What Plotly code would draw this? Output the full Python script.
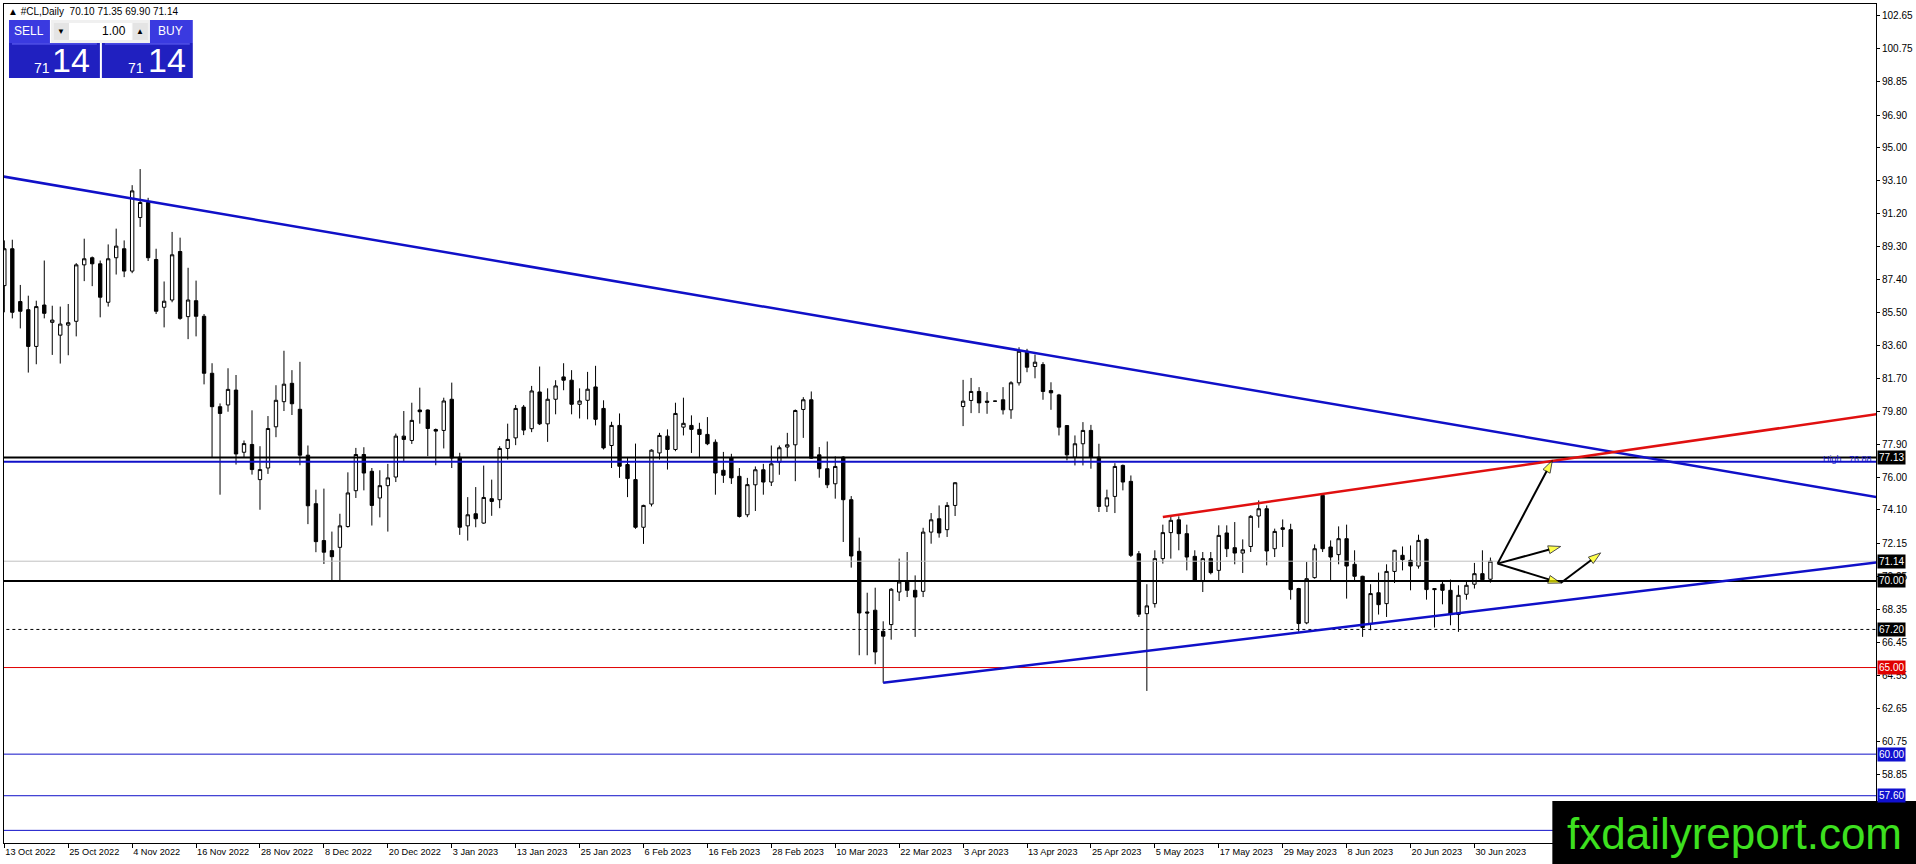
import pandas as pd
import plotly.graph_objects as go

# daily bars 13 Oct 2022 - 4 Jul 2023 (no bars on 26 Dec and 2 Jan)
holidays = ["2022-12-26", "2023-01-02"]
dates = [d for d in pd.bdate_range("2022-10-13", "2023-07-04") if d.strftime("%Y-%m-%d") not in holidays]

opens = [87.05, 89.18, 86.13, 85.66, 83.54, 85.93, 84.93, 84.19, 84.77, 84.99,
         88.25, 88.66, 88.31, 86.09, 88.66, 89.18, 87.89, 90.98, 91.85, 88.56,
         85.80, 86.22, 89.02, 85.26, 86.18, 85.28, 81.99, 80.06, 80.16, 81.02,
         77.43, 77.88, 75.85, 76.52, 78.90, 80.35, 81.41, 79.91, 77.26, 74.46,
         72.33, 71.75, 71.94, 73.14, 75.21, 77.30, 76.33, 74.79, 75.50, 76.00,
         78.36, 78.11, 79.87, 79.87, 78.74, 78.69, 80.49, 77.14, 73.18, 73.88,
         73.34, 74.75, 74.69, 77.65, 78.26, 80.04, 78.79, 80.91, 79.07, 80.49,
         81.78, 81.59, 80.20, 80.43, 81.20, 79.96, 77.82, 78.98, 76.72, 75.85,
         73.10, 74.44, 77.39, 78.36, 77.59, 78.88, 78.98, 78.75, 78.46, 78.01,
         76.39, 77.10, 76.04, 73.82, 75.55, 76.42, 75.71, 76.86, 77.73, 77.86,
         79.90, 80.46, 77.28, 76.48, 75.61, 77.15, 74.69, 71.71, 68.21, 68.31,
         67.09, 67.48, 69.36, 69.99, 69.46, 69.40, 72.82, 73.59, 72.96, 74.36,
         80.07, 80.42, 80.94, 80.38, 80.38, 80.46, 79.88, 81.44, 83.26, 82.38,
         82.49, 80.99, 80.74, 78.97, 77.15, 77.92, 78.69, 77.15, 74.32, 74.88,
         76.67, 75.75, 71.57, 68.11, 68.69, 71.29, 72.79, 73.53, 72.73, 71.42,
         70.00, 71.29, 70.61, 72.77, 71.92, 71.61, 71.99, 73.75, 74.17, 71.86,
         73.07, 72.96, 69.56, 67.58, 70.19, 74.94, 71.96, 71.52, 72.44, 70.96,
         70.27, 67.54, 69.32, 68.69, 70.55, 71.48, 71.19, 70.86, 72.40, 69.56,
         69.81, 69.46, 68.06, 69.23, 69.81, 70.42, 70.10]
highs = [89.66, 89.70, 87.09, 86.47, 86.18, 88.50, 85.89, 85.84, 85.99, 88.35,
         89.76, 88.73, 88.50, 89.43, 90.34, 89.66, 92.85, 93.78, 92.12, 89.18,
         87.29, 90.15, 89.82, 88.08, 87.34, 85.41, 82.57, 80.25, 82.28, 81.89,
         78.11, 79.85, 77.78, 79.52, 81.30, 83.29, 82.17, 82.65, 77.82, 75.27,
         75.33, 72.85, 73.88, 76.27, 77.68, 77.72, 76.52, 76.39, 76.76, 78.51,
         79.81, 80.29, 81.16, 79.90, 78.80, 80.58, 81.45, 77.40, 74.84, 75.42,
         76.66, 75.85, 77.78, 79.08, 80.16, 80.16, 81.26, 82.38, 81.12, 81.59,
         82.57, 82.17, 81.12, 82.07, 82.42, 80.43, 79.19, 79.67, 77.16, 77.93,
         74.40, 77.60, 78.55, 78.75, 80.29, 80.58, 79.56, 79.13, 79.46, 78.17,
         77.45, 77.34, 76.52, 75.95, 76.61, 76.76, 77.82, 77.82, 78.55, 79.90,
         80.61, 80.94, 77.73, 78.05, 77.19, 77.20, 74.90, 72.50, 69.32, 69.61,
         67.67, 69.59, 71.29, 71.67, 70.32, 73.07, 73.92, 74.36, 74.55, 75.70,
         81.61, 81.72, 81.19, 80.90, 80.40, 81.19, 81.53, 83.49, 83.40, 83.07,
         82.63, 81.47, 80.80, 79.00, 78.40, 79.17, 79.01, 77.92, 75.27, 76.80,
         76.72, 76.09, 71.73, 69.81, 71.77, 73.25, 73.69, 73.73, 73.25, 71.77,
         71.67, 71.67, 73.21, 73.21, 73.40, 72.40, 73.80, 74.65, 74.36, 73.02,
         73.55, 73.30, 69.60, 71.09, 72.11, 75.03, 72.34, 73.15, 73.25, 71.77,
         70.30, 69.81, 70.48, 70.96, 71.80, 71.99, 72.05, 72.67, 72.45, 69.58,
         70.04, 70.08, 69.75, 70.04, 71.04, 71.77, 71.35]
lows = [85.51, 85.16, 84.58, 82.03, 82.51, 85.16, 83.05, 82.55, 83.03, 84.12,
        87.31, 87.02, 85.22, 85.84, 87.69, 87.54, 87.77, 90.44, 88.47, 85.41,
        84.64, 86.09, 85.08, 83.96, 84.12, 81.35, 77.14, 74.98, 79.77, 76.72,
        77.14, 76.14, 74.11, 76.18, 78.30, 79.81, 79.58, 76.68, 73.28, 71.66,
        70.98, 69.95, 70.05, 73.08, 74.79, 75.23, 73.20, 73.67, 72.85, 75.71,
        76.91, 77.91, 79.08, 77.20, 76.68, 77.65, 76.52, 72.66, 72.33, 73.10,
        73.30, 73.76, 74.20, 77.01, 77.84, 78.42, 78.59, 79.00, 78.03, 79.62,
        81.01, 79.62, 79.38, 79.33, 78.98, 77.59, 76.52, 75.95, 74.84, 73.01,
        72.14, 74.30, 77.01, 76.43, 77.49, 78.40, 77.39, 77.14, 77.84, 74.98,
        75.66, 75.60, 73.66, 73.68, 74.04, 74.98, 75.48, 76.13, 77.15, 75.76,
        78.26, 77.05, 75.96, 75.36, 74.75, 72.25, 70.77, 65.71, 65.71, 65.19,
        64.12, 66.61, 68.84, 69.07, 66.77, 69.07, 72.15, 72.50, 72.54, 73.75,
        78.94, 79.69, 79.69, 79.65, 80.36, 79.61, 79.36, 81.28, 82.05, 81.70,
        80.46, 79.88, 78.40, 76.96, 76.67, 76.67, 76.48, 73.98, 73.98, 73.92,
        75.23, 71.38, 67.92, 63.65, 68.46, 71.00, 71.29, 71.77, 70.61, 69.94,
        69.36, 70.38, 70.00, 71.38, 70.96, 70.46, 71.67, 73.07, 70.90, 71.38,
        71.96, 68.92, 67.06, 67.50, 70.13, 71.67, 70.00, 70.96, 68.98, 70.00,
        66.77, 67.15, 68.06, 67.92, 69.88, 70.61, 69.46, 70.71, 68.92, 67.31,
        68.65, 67.44, 67.06, 68.92, 69.56, 69.94, 69.90]
closes = [89.18, 85.51, 85.57, 83.54, 85.84, 85.45, 85.06, 84.83, 84.91, 88.25,
          88.60, 88.31, 86.38, 88.60, 89.33, 87.89, 92.52, 91.85, 88.66, 85.57,
          86.15, 88.83, 85.16, 86.22, 85.28, 81.99, 80.06, 79.67, 81.06, 77.33,
          77.93, 76.43, 76.43, 78.80, 80.43, 81.36, 80.23, 77.26, 74.34, 72.27,
          71.66, 71.40, 73.18, 75.08, 77.30, 76.23, 74.36, 75.50, 75.95, 78.36,
          78.17, 79.27, 79.77, 78.80, 78.65, 80.39, 77.10, 73.10, 73.82, 73.59,
          74.82, 74.59, 77.65, 78.17, 79.96, 78.71, 80.97, 79.07, 80.49, 81.26,
          81.59, 80.20, 80.39, 81.07, 79.33, 77.68, 78.98, 76.62, 75.91, 73.10,
          74.36, 77.55, 78.40, 77.59, 79.67, 79.10, 78.75, 78.46, 77.92, 76.23,
          76.10, 75.95, 73.72, 75.56, 76.42, 75.71, 76.76, 77.69, 77.86, 79.84,
          80.46, 77.09, 76.48, 75.55, 76.61, 74.69, 71.44, 68.15, 68.15, 65.90,
          66.81, 69.52, 69.94, 69.46, 69.07, 72.82, 73.53, 72.77, 74.36, 75.67,
          80.38, 80.94, 80.28, 80.32, 80.38, 79.88, 81.44, 83.26, 82.34, 82.63,
          80.94, 80.86, 78.88, 77.28, 77.92, 78.69, 77.15, 74.30, 74.80, 76.61,
          75.71, 71.48, 68.08, 68.56, 71.29, 72.79, 73.50, 72.73, 71.38, 70.00,
          71.29, 70.48, 72.63, 71.86, 71.61, 71.80, 73.73, 74.17, 71.73, 72.86,
          72.98, 69.50, 67.54, 70.13, 71.86, 71.86, 71.38, 72.44, 70.86, 70.27,
          67.31, 69.27, 68.63, 70.55, 71.77, 71.23, 70.86, 72.34, 69.50, 69.50,
          69.46, 68.08, 69.17, 69.75, 70.42, 70.07, 71.14]

date_labels = ["13 Oct 2022", "25 Oct 2022", "4 Nov 2022", "16 Nov 2022", "28 Nov 2022",
               "8 Dec 2022", "20 Dec 2022", "3 Jan 2023", "13 Jan 2023", "25 Jan 2023",
               "6 Feb 2023", "16 Feb 2023", "28 Feb 2023", "10 Mar 2023", "22 Mar 2023",
               "3 Apr 2023", "13 Apr 2023", "25 Apr 2023", "5 May 2023", "17 May 2023",
               "29 May 2023", "8 Jun 2023", "20 Jun 2023", "30 Jun 2023"]
price_ticks = [102.65, 100.75, 98.85, 96.90, 95.00, 93.10, 91.20, 89.30, 87.40, 85.50,
               83.60, 81.70, 79.80, 77.90, 76.00, 74.10, 72.15, 70.25, 68.35, 66.45,
               64.55, 62.65, 60.75, 58.85]

# horizontal levels
level_black = [77.13, 70.00]
level_high = 76.88
level_bid = 71.14
level_dash = 67.20
level_red = 65.00
level_blue = [60.00, 57.60, 55.60]

# trend lines (bar index, price)
trend_down = ([-1, 235], [93.42, 74.79])
trend_up_blue = ([110, 235], [64.12, 71.10])
trend_up_red = ([145, 235], [73.69, 79.67])

# forecast arrows (bar index, price)
arrows = [
    ([186.9, 193.75], [71.00, 76.96]),
    ([186.9, 194.8], [71.00, 71.99]),
    ([186.9, 194.8], [71.00, 69.88]),
    ([194.8, 199.8], [69.88, 71.62]),
]

FONT = "Liberation Sans"
BLUE = "#1010c8"
W, H = 1916, 864
ML, MR, MT, MB = 3, 39, 3, 21

n = len(closes)
dates = dates[:n]
bar_x = list(range(n))
label_idx = [i for i, d in enumerate(dates) if f"{d.day} {d.strftime('%b %Y')}" in date_labels]


def px(x):
    return (x - ML) / (W - ML - MR)


def py(y):
    return (H - MB - y) / (H - MT - MB)


fig = go.Figure()

# bid line under the bars
fig.add_trace(go.Scatter(x=[-5, 240], y=[level_bid] * 2, mode="lines",
                         line=dict(color="#c0c0c0", width=1), hoverinfo="skip"))

fig.add_trace(go.Candlestick(
    x=bar_x, open=opens, high=highs, low=lows, close=closes,
    text=[d.strftime("%Y.%m.%d") for d in dates],
    increasing=dict(line=dict(color="black", width=1), fillcolor="white"),
    decreasing=dict(line=dict(color="black", width=1), fillcolor="black"),
    whiskerwidth=0, name="#CL,Daily"))

for lv in level_black:
    fig.add_trace(go.Scatter(x=[-5, 240], y=[lv] * 2, mode="lines",
                             line=dict(color="black", width=2), hoverinfo="skip"))
fig.add_trace(go.Scatter(x=[-5, 240], y=[level_high] * 2, mode="lines",
                         line=dict(color=BLUE, width=2), hoverinfo="skip"))
fig.add_trace(go.Scatter(x=[-5, 240], y=[level_dash] * 2, mode="lines",
                         line=dict(color="black", width=1, dash="3px,3px"), hoverinfo="skip"))
fig.add_trace(go.Scatter(x=[-5, 240], y=[level_red] * 2, mode="lines",
                         line=dict(color="#e00000", width=1), hoverinfo="skip"))
for lv in level_blue:
    fig.add_trace(go.Scatter(x=[-5, 240], y=[lv] * 2, mode="lines",
                             line=dict(color=BLUE, width=1), hoverinfo="skip"))

for tl, col in [(trend_down, BLUE), (trend_up_blue, BLUE), (trend_up_red, "#e01010")]:
    fig.add_trace(go.Scatter(x=tl[0], y=tl[1], mode="lines",
                             line=dict(color=col, width=2.5), hoverinfo="skip"))

for ax, ay in arrows:
    fig.add_trace(go.Scatter(
        x=ax, y=ay, mode="lines+markers", hoverinfo="skip",
        line=dict(color="black", width=2),
        marker=dict(symbol=["circle", "arrow"], size=[0, 13], color="#ffff00",
                    angleref="previous", line=dict(color="black", width=[0, 1]))))

# price labels on the axis
for val, bg in [(77.13, "black"), (71.14, "black"), (70.00, "black"), (67.20, "black"),
                (65.00, "#e00000"), (60.00, "#1010d0"), (57.60, "#1010d0")]:
    fig.add_annotation(x=1, xref="paper", xanchor="left", xshift=1, y=val, yref="y",
                       yanchor="middle", text=f"{val:.2f}", showarrow=False, bgcolor=bg,
                       borderpad=1, font=dict(color="white", size=10, family=FONT))
fig.add_annotation(x=1, xref="paper", xanchor="right", xshift=-2, y=level_high, yref="y",
                   yanchor="bottom", yshift=-4, text="High&nbsp;&nbsp;&nbsp;76.88",
                   showarrow=False, font=dict(color=BLUE, size=9, family=FONT))

# header
fig.add_annotation(x=px(5), y=py(11), xref="paper", yref="paper", xanchor="left",
                   yanchor="middle", text="▲ #CL,Daily  70.10 71.35 69.90 71.14",
                   showarrow=False, font=dict(color="black", size=10, family=FONT))

# one-click trading panel
shapes = []
for x0, x1, y0, y1, col in [(8, 49, 19, 42, "#3a3ae0"), (149, 192, 19, 42, "#3a3ae0"),
                            (8, 99, 42, 77, "#2020c0"), (101, 192, 42, 77, "#2020c0"),
                            (50, 149, 19, 42, "#f0f0f0"), (68, 131, 22, 39, "white"),
                            (53, 68, 22, 39, "#e4e4e4"), (132, 147, 22, 39, "#e4e4e4")]:
    shapes.append(dict(type="rect", xref="paper", yref="paper", x0=px(x0), x1=px(x1),
                       y0=py(y1), y1=py(y0), fillcolor=col, line=dict(width=0), layer="above"))
shapes.append(dict(type="line", xref="paper", yref="paper", x0=px(11), x1=px(96),
                   y0=py(43), y1=py(43), line=dict(color="#6a6aff", width=1), layer="above"))
shapes.append(dict(type="line", xref="paper", yref="paper", x0=px(104), x1=px(189),
                   y0=py(43), y1=py(43), line=dict(color="#6a6aff", width=1), layer="above"))
# watermark box
shapes.append(dict(type="rect", xref="paper", yref="paper", x0=px(1553), x1=px(1920),
                   y0=py(868), y1=py(801), fillcolor="black", line=dict(width=0), layer="above"))

for x, y, t, s, c in [(28, 30, "SELL", 12, "white"), (170, 30, "BUY", 12, "white"),
                      (60, 31, "▼", 8, "black"), (139, 31, "▲", 8, "black"),
                      (113, 30, "1.00", 12, "black"),
                      (41, 67, "71", 14, "white"), (70, 59, "14", 34, "white"),
                      (135, 67, "71", 14, "white"), (166, 59, "14", 34, "white")]:
    fig.add_annotation(x=px(x), y=py(y), xref="paper", yref="paper", text=t, showarrow=False,
                       xanchor="center", yanchor="middle",
                       font=dict(color=c, size=s, family=FONT))

fig.add_annotation(x=px(1735), y=py(833), xref="paper", yref="paper", text="fxdailyreport.com",
                   xanchor="center", yanchor="middle", showarrow=False,
                   font=dict(color="#3de01f", size=44, family=FONT))

fig.update_layout(
    width=W, height=H, margin=dict(l=ML, r=MR, t=MT, b=MB),
    paper_bgcolor="white", plot_bgcolor="white", showlegend=False,
    font=dict(family=FONT, size=10, color="black"),
    shapes=shapes,
    xaxis=dict(range=[-0.04, 234.26], tickvals=label_idx, ticktext=date_labels,
               ticks="outside", ticklen=4, tickcolor="black", ticklabelposition="outside right",
               tickangle=0, showline=True, linecolor="black", linewidth=1, mirror=True,
               showgrid=False, zeroline=False, rangeslider=dict(visible=False),
               tickfont=dict(size=9.2)),
    yaxis=dict(range=[54.87, 103.31], side="right", tickvals=price_ticks,
               ticktext=[f"{v:.2f}" for v in price_ticks], ticks="outside", ticklen=3,
               tickcolor="black", showline=True, linecolor="black", linewidth=1, mirror=True,
               showgrid=False, zeroline=False, tickfont=dict(size=10)),
    boxgap=0.4,
)

fig.write_html("out.html", config={"displayModeBar": False},
               post_script="document.body.style.margin='0';document.body.style.overflow='hidden';")
